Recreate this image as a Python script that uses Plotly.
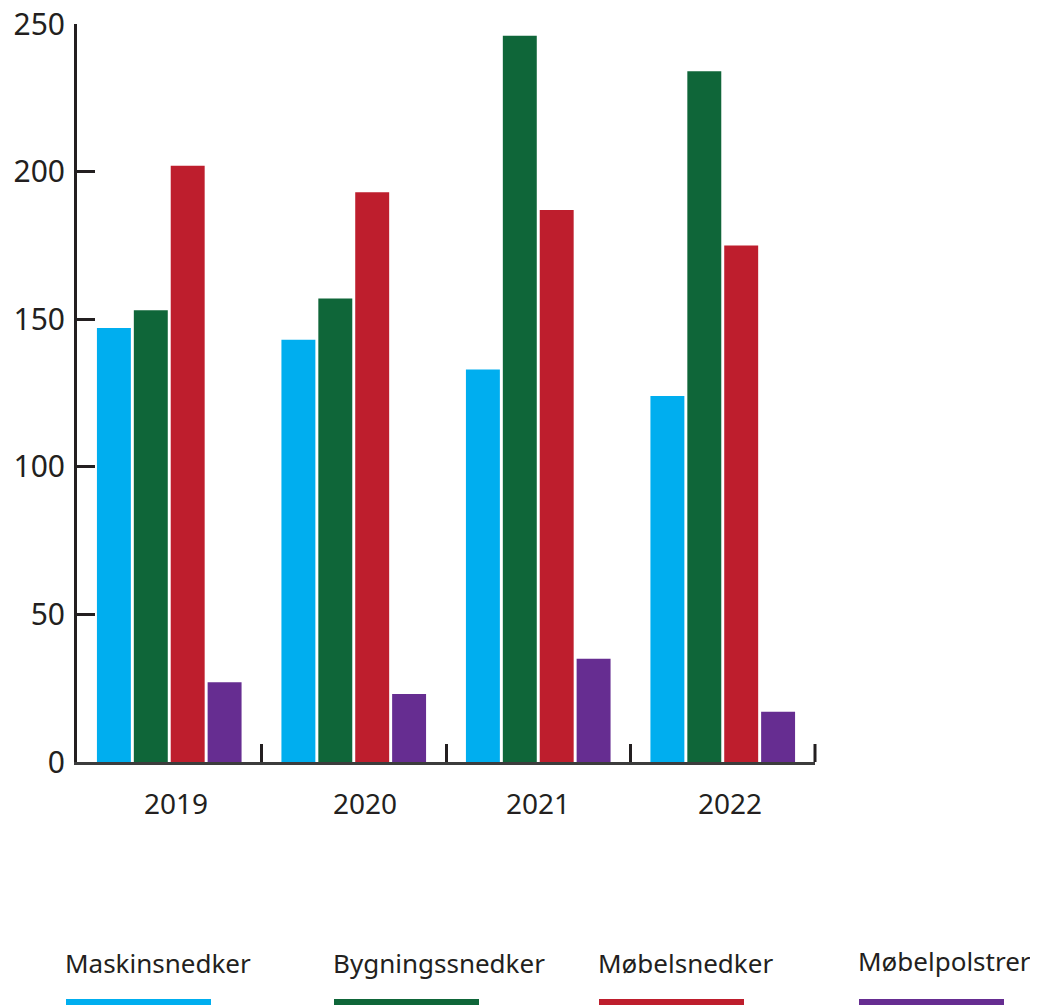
import plotly.graph_objects as go

years = ["2019", "2020", "2021", "2022"]
series_names = ["Maskinsnedker", "Bygningssnedker", "Møbelsnedker", "Møbelpolstrer"]
maskinsnedker = [147, 143, 133, 124]
bygningssnedker = [153, 157, 246, 234]
mobelsnedker = [202, 193, 187, 175]
mobelpolstrer = [27, 23, 35, 17]
colors = ["#00AEEF", "#0F6639", "#BE1E2D", "#662D91"]
y_ticks = [0, 50, 100, 150, 200, 250]

OFF = 8  # browser body margin
W, H = 1038 - OFF, 1005 - OFF
L, T = 77 - OFF, 24 - OFF
R, B = 223, 243
PW, PH = W - L - R, H - T - B


def px_to_paper_x(px):
    return (px - OFF - L) / PW


def px_to_paper_y(py):
    return (T + PH - (py - OFF)) / PH


fig = go.Figure()
for name, vals, col in zip(series_names, [maskinsnedker, bygningssnedker, mobelsnedker, mobelpolstrer], colors):
    fig.add_trace(go.Bar(x=years, y=vals, name=name, marker=dict(color=col, line=dict(width=0)),
                         showlegend=False))

# category labels (placed as in the original, slightly off-centre);
# on a category axis annotation x is the category's serial index
label_shift = [7, 11, 0, 7]
for idx, (yr, sh) in enumerate(zip(years, label_shift)):
    fig.add_annotation(xref="x", yref="paper", x=idx, y=px_to_paper_y(803), xshift=sh,
                       xanchor="center", yanchor="middle", text=yr, showarrow=False,
                       font=dict(family="Noto Sans", size=28, color="#231F20"))

# closing boundary tick at the right end of the x axis
fig.add_shape(type="line", xref="paper", yref="paper", x0=1, x1=1, y0=0, y1=18 / PH,
              line=dict(color="#231F20", width=3))

# custom legend: text above a coloured bar
leg_x = [66, 334, 599, 859]
leg_text_y = [963, 963, 963, 961]
for i, (name, col) in enumerate(zip(series_names, colors)):
    x0 = px_to_paper_x(leg_x[i])
    x1 = px_to_paper_x(leg_x[i] + 145)
    fig.add_shape(type="rect", xref="paper", yref="paper",
                  x0=x0, x1=x1, y0=px_to_paper_y(1010), y1=px_to_paper_y(999),
                  fillcolor=col, line=dict(width=0))
    fig.add_annotation(xref="paper", yref="paper", x=px_to_paper_x(leg_x[i] - 3), y=px_to_paper_y(leg_text_y[i]),
                       xanchor="left", yanchor="middle", text=name, showarrow=False,
                       font=dict(family="Noto Sans", size=26, color="#231F20"))

fig.update_layout(
    width=W, height=H,
    margin=dict(l=L, r=R, t=T, b=B, pad=0, autoexpand=False),
    paper_bgcolor="white", plot_bgcolor="white",
    barmode="group", bargap=0.2, bargroupgap=0.08,
    font=dict(family="Noto Sans", color="#231F20"),
)
fig.update_yaxes(range=[0, 250], tickvals=y_ticks, ticks="inside", ticklen=18, tickwidth=3,
                 tickcolor="#231F20", showline=True, linewidth=3, linecolor="#231F20",
                 showgrid=False, zeroline=False, tickfont=dict(size=30, color="#231F20"),
                 ticklabelstandoff=3, automargin=False, ticklabeloverflow="allow")
fig.update_xaxes(type="category", categoryorder="array", categoryarray=years,
                 ticks="inside", tickson="boundaries", ticklen=18, tickwidth=3,
                 tickcolor="#231F20", showline=True, linewidth=3, linecolor="#3C3C3C",
                 showgrid=False, zeroline=False, showticklabels=False, automargin=False)

fig.write_html("out.html")
